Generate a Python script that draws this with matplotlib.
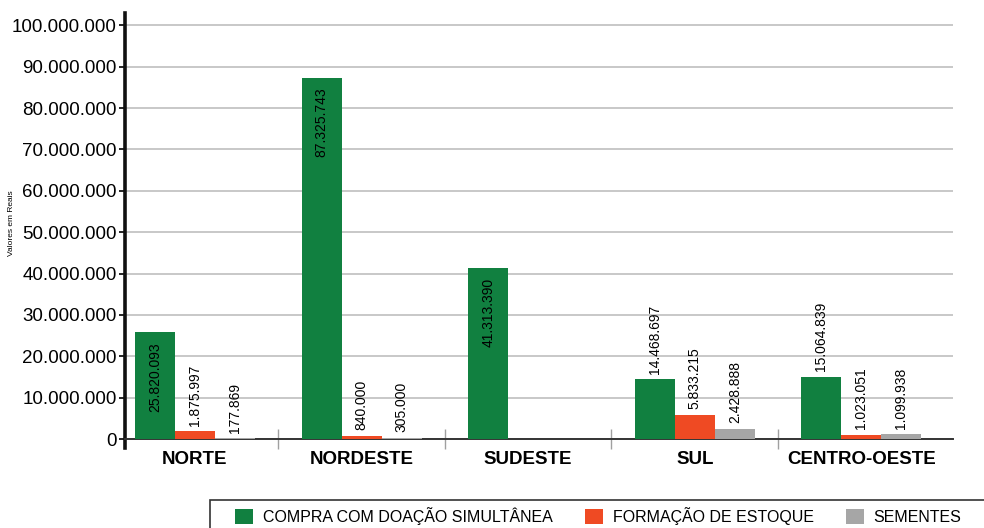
import matplotlib
matplotlib.use("Agg")
import numpy as np
import matplotlib.pyplot as plt
from matplotlib.patches import Patch, Rectangle
from matplotlib.ticker import FuncFormatter, FixedLocator

regions = ['NORTE', 'NORDESTE', 'SUDESTE', 'SUL', 'CENTRO-OESTE']
compra = [25820093, 87325743, 41313390, 14468697, 15064839]
estoque = [1875997, 840000, 0, 5833215, 1023051]
sementes = [177869, 305000, 0, 2428888, 1099938]
series_names = ['COMPRA COM DOAÇÃO SIMULTÂNEA', 'FORMAÇÃO DE ESTOQUE', 'SEMENTES']
colors = ['#118040', '#EF4A23', '#A6A6A6']

plt.rcParams['font.family'] = ['Liberation Sans', 'DejaVu Sans']


def fmt_br(v):
    return f'{int(v):,}'.replace(',', '.')


fig = plt.figure(figsize=(9.84, 5.28), dpi=100)
W, H = 984, 528
ax = fig.add_axes([125 / W, 1 - 439 / H, (953 - 125) / W, (439 - 13) / H])

x = np.arange(len(regions))
width = 0.24
all_series = [compra, estoque, sementes]
for k, (vals, col) in enumerate(zip(all_series, colors)):
    pos = x + (k - 1) * width
    ax.bar(pos, vals, width=width, color=col, zorder=3)
    for px, v in zip(pos, vals):
        if v == 0:
            continue
        if v > 20e6:
            # tall bars carry their value inside, near the top
            ax.annotate(fmt_br(v), (px, v), xytext=(0, -7), textcoords='offset points',
                        rotation=90, ha='center', va='top', fontsize=10, zorder=4)
        else:
            ax.annotate(fmt_br(v), (px, v), xytext=(0, 4), textcoords='offset points',
                        rotation=90, ha='center', va='bottom', fontsize=10, zorder=4)

ax.set_xlim(-0.42, 4.55)
ax.set_ylim(0, 103e6)
ax.set_yticks(np.arange(0, 100e6 + 1, 10e6))
ax.yaxis.set_major_formatter(FuncFormatter(lambda v, p: fmt_br(v)))
ax.tick_params(axis='y', labelsize=13.5, length=4, width=1.2, pad=2)
ax.grid(axis='y', color='#C4C4C4', linewidth=1.3, zorder=0)

ax.set_xticks(x)
ax.set_xticklabels(regions, fontsize=13.5, fontweight='bold')
ax.tick_params(axis='x', length=0, pad=9)
ax.xaxis.set_minor_locator(FixedLocator(x[:-1] + 0.5))
ax.tick_params(axis='x', which='minor', direction='inout', length=14, width=1, color='#A0A0A0')

for side in ['top', 'right']:
    ax.spines[side].set_visible(False)
ax.spines['left'].set_linewidth(2.6)
ax.spines['left'].set_color('#111111')
ax.spines['left'].set_bounds(-2.2e6, 103e6)
ax.spines['bottom'].set_linewidth(1.4)
ax.spines['bottom'].set_color('#333333')

fig.text(12 / W, 1 - 223 / H, 'Valores em Reais', rotation=90, fontsize=6,
         ha='center', va='center')

handles = [Patch(facecolor=c, edgecolor='none') for c in colors]
fig.legend(handles, series_names, loc='center left', bbox_to_anchor=(235 / W, 1 - 516 / H),
           ncol=3, frameon=False, borderpad=0, borderaxespad=0, handlelength=1.15,
           handleheight=1.15, handletextpad=0.6, columnspacing=2.0,
           prop={'size': 11.5})
fig.patches.append(Rectangle((210 / W, -10 / H), 790 / W, 38 / H, transform=fig.transFigure,
                             fill=False, edgecolor='#333333', linewidth=1.2, clip_on=False))

fig.savefig('out.png', dpi=100)
